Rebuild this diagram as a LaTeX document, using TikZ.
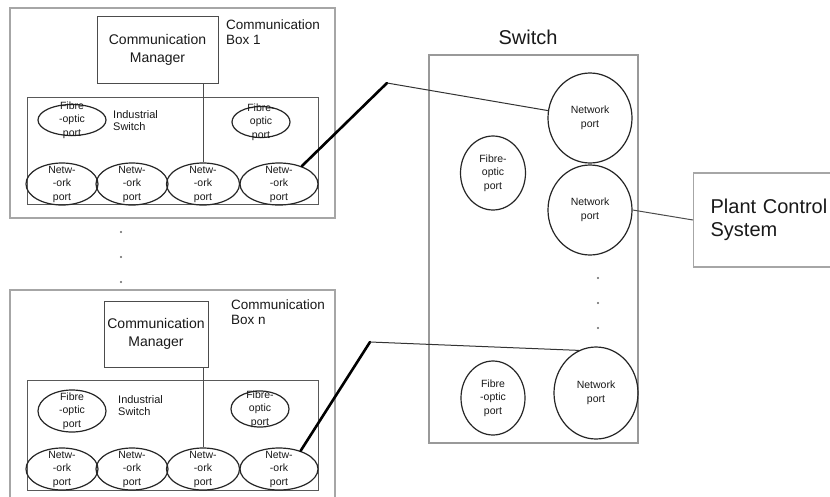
\documentclass[tikz,border=0pt]{standalone}
\usepackage{fontspec}
\setmainfont{Liberation Sans}
\usetikzlibrary{shapes.geometric, positioning, calc}

\begin{document}
\begin{tikzpicture}[x=1pt, y=-1pt,
        portfont/.style={align=center, text=black!90, font=\fontsize{10.5}{13.5}\selectfont},
        port/.style={ellipse, draw=black!85, line width=1.2pt, inner sep=0pt, label={[portfont]center:#1}},
        netport/.style={port={Netw-\\-ork\\port}, minimum width=72pt, minimum height=42pt},
        swport/.style={port={Network\\port}, minimum width=84pt, minimum height=90pt},
        outerbox/.style={rectangle, draw=black!35, line width=1.2pt, inner sep=0pt},
        innerbox/.style={rectangle, draw=black!65, line width=1pt, inner sep=0pt},
        manbox/.style={rectangle, draw=black!70, line width=1pt, inner sep=0pt, align=center,
            text=black!90, font=\fontsize{14}{18}\selectfont},
        boxlabel/.style={anchor=north west, inner sep=0pt, align=left, text=black!90},
        cable/.style={black, line width=2.6pt, line cap=round},
        wire/.style={black!80, line width=1pt}]
    \clip (0,0) rectangle (830,496);
    \fill[white] (0,0) rectangle (830,496);

    % Communication box 1
    \node[outerbox, minimum width=325pt, minimum height=210pt] (box1) at (172.5,113) {};
    \node[manbox, minimum width=121pt, minimum height=67pt] (man1) at (157.5,49.5) {Communication\\Manager};
    \node[boxlabel, font=\fontsize{13.5}{15}\selectfont] (lab1) at (226,20) {Communication\\Box 1};
    \node[innerbox, minimum width=291pt, minimum height=107pt] (sw1) at (172.5,150.5) {};
    \node[boxlabel, font=\fontsize{11}{12.5}\selectfont] (ind1) at (113,110) {Industrial\\Switch};
    \node[port={Fibre\\-optic\\port}, minimum width=68pt, minimum height=31pt] (f11) at (72,120) {};
    \node[port={Fibre-\\optic\\port}, minimum width=58pt, minimum height=31pt] (f12) at (261,122) {};
    \node[netport] (p11) at (62,184) {};
    \node[netport] (p12) at (132,184) {};
    \node[netport, minimum width=73pt] (p13) at (203,184) {};
    \node[netport, minimum width=78pt] (p14) at (279,184) {};
    \draw[wire, black!70] (p13.north |- man1.south) -- (p13.north);

    % dots between the boxes
    \foreach \y in {232, 257, 282} \fill[black!60] (121,\y) circle (1.2pt);

    % Communication box n
    \node[outerbox, minimum width=325pt, minimum height=210pt] (boxn) at (172.5,395) {};
    \node[manbox, minimum width=104pt, minimum height=66pt] (mann) at (156,334) {Communication\\Manager};
    \node[boxlabel, font=\fontsize{13.5}{15}\selectfont] (labn) at (231,300) {Communication\\Box n};
    \node[innerbox, minimum width=291pt, minimum height=110pt] (swn) at (172.5,435) {};
    \node[boxlabel, font=\fontsize{11}{12.5}\selectfont] (indn) at (118,395) {Industrial\\Switch};
    \node[port={Fibre\\-optic\\port}, minimum width=68pt, minimum height=42pt] (fn1) at (72,411) {};
    \node[port={Fibre-\\optic\\port}, minimum width=58pt, minimum height=36pt] (fn2) at (260,409) {};
    \node[netport] (pn1) at (62,469) {};
    \node[netport] (pn2) at (132,469) {};
    \node[netport, minimum width=73pt] (pn3) at (203,469) {};
    \node[netport, minimum width=78pt] (pn4) at (279,469) {};
    \draw[wire, black!70] (pn3.north |- mann.south) -- (pn3.north);

    % Switch
    \node[outerbox, draw=black!40, minimum width=209pt, minimum height=388pt] (sw) at (533.5,249) {};
    \node[font=\fontsize{20}{24}\selectfont, text=black!90] (swlab) at (528,37) {Switch};
    \node[swport] (sp1) at (590,118) {};
    \node[swport] (sp2) at (590,210) {};
    \node[swport, minimum height=92pt] (sp3) at (596,393) {};
    \node[port={Fibre-\\optic\\port}, minimum width=65pt, minimum height=74pt] (sf1) at (493,173) {};
    \node[port={Fibre\\-optic\\port}, minimum width=64pt, minimum height=74pt] (sf2) at (493,398) {};
    \foreach \y in {278, 303, 328} \fill[black!60] (598,\y) circle (1.2pt);

    % Plant control system
    \node[outerbox, anchor=west, minimum height=94pt, text width=140pt, inner xsep=17pt, align=left,
        text=black!90, font=\fontsize{20}{23}\selectfont] (pcs) at (693,220) {Plant Control\\System};

    % Cables
    \coordinate (k1) at (387,83);
    \coordinate (kn) at (370,342);
    \draw[cable] (p14.38) -- (k1);
    \draw[wire] (k1) -- (sp1.170);
    \draw[cable] (pn4.40) -- (kn);
    \draw[wire] (kn) -- (sp3.112);
    \draw[wire, black!70] (sp2.east) -- (pcs.west);
\end{tikzpicture}
\end{document}
